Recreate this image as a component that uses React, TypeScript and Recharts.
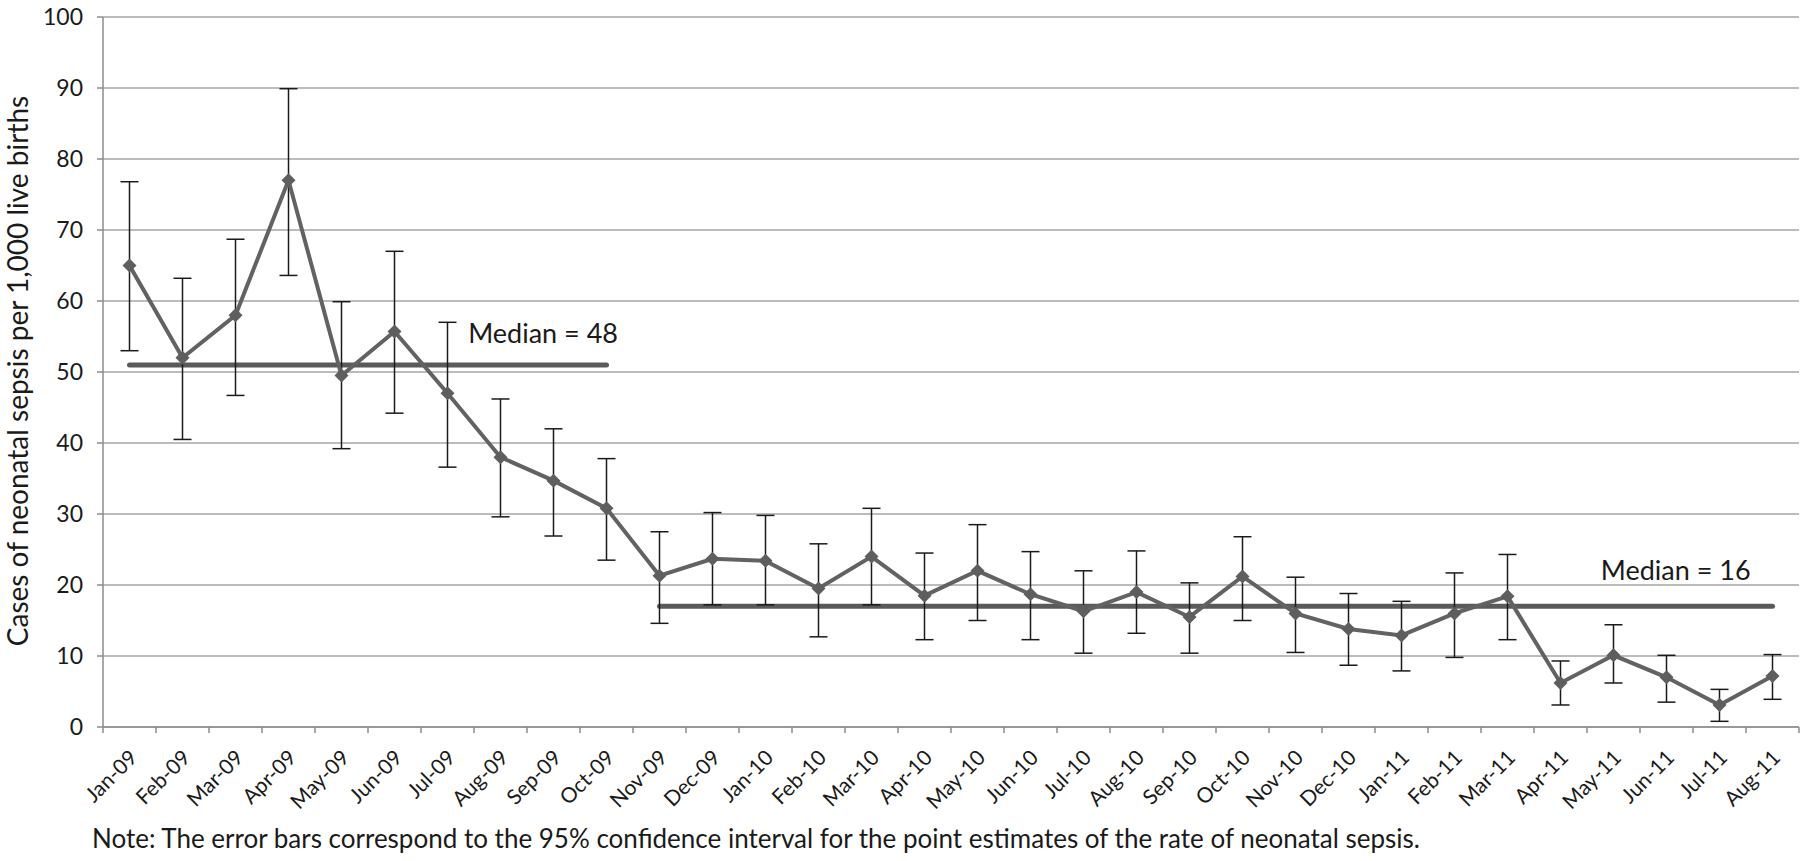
import React from 'react';
import {
  LineChart,
  Line,
  XAxis,
  YAxis,
  CartesianGrid,
  ErrorBar,
  ReferenceDot,
} from 'recharts';

const months = [
  'Jan-09', 'Feb-09', 'Mar-09', 'Apr-09', 'May-09', 'Jun-09', 'Jul-09', 'Aug-09',
  'Sep-09', 'Oct-09', 'Nov-09', 'Dec-09', 'Jan-10', 'Feb-10', 'Mar-10', 'Apr-10',
  'May-10', 'Jun-10', 'Jul-10', 'Aug-10', 'Sep-10', 'Oct-10', 'Nov-10', 'Dec-10',
  'Jan-11', 'Feb-11', 'Mar-11', 'Apr-11', 'May-11', 'Jun-11', 'Jul-11', 'Aug-11',
];

const rates = [
  65, 52, 58, 77, 49.5, 55.7, 47, 38, 34.7, 30.8, 21.3, 23.7, 23.4, 19.5, 24, 18.5,
  22, 18.7, 16.3, 19, 15.5, 21.2, 16, 13.8, 12.9, 16, 18.4, 6.2, 10.1, 7, 3.1, 7.2,
];

const lower = [
  53, 40.5, 46.7, 63.6, 39.2, 44.2, 36.6, 29.6, 26.9, 23.5, 14.6, 17.2, 17.2, 12.7, 17.2, 12.3,
  15, 12.3, 10.4, 13.2, 10.4, 15, 10.5, 8.7, 7.9, 9.8, 12.3, 3.1, 6.2, 3.5, 0.8, 3.9,
];

const upper = [
  76.8, 63.2, 68.7, 89.9, 59.9, 67, 57, 46.2, 42, 37.8, 27.5, 30.2, 29.8, 25.8, 30.8, 24.5,
  28.5, 24.7, 22, 24.8, 20.3, 26.8, 21.1, 18.8, 17.7, 21.7, 24.3, 9.3, 14.4, 10.1, 5.3, 10.2,
];

// median segments: level drawn, first and last month index, label position
const medians = [
  { label: 'Median = 48', level: 51, from: 0, to: 9, labelX: 6.39, labelY: 55.5 },
  { label: 'Median = 16', level: 17, from: 10, to: 31, labelX: 27.76, labelY: 22.1 },
];

const yTicks = [0, 10, 20, 30, 40, 50, 60, 70, 80, 90, 100];

const FONT = 'Lato, "Noto Sans", sans-serif';

const data = months.map((m, i) => {
  const row: any = {
    x: i,
    month: m,
    rate: rates[i],
    err: [rates[i] - lower[i], upper[i] - rates[i]],
  };
  medians.forEach((md, k) => {
    row['median' + k] = i >= md.from && i <= md.to ? md.level : null;
  });
  return row;
});

// category centres get labels, category edges get tick marks
const xTicks = months.flatMap((_, i) => [i - 0.5, i]).concat(months.length - 0.5);

function MonthTick(props: any) {
  const { x, y, payload } = props;
  const v = payload.value;
  if (!Number.isInteger(v)) {
    return <line x1={x} y1={y} x2={x} y2={y + 6} stroke="#8c8c8c" strokeWidth={1.5} />;
  }
  const tx = x + 9;
  const ty = y + 32;
  return (
    <text
      x={tx}
      y={ty}
      textAnchor="end"
      fontFamily={FONT}
      fontSize={21}
      fill="#1a1a1a"
      transform={`rotate(-45, ${tx}, ${ty})`}
    >
      {months[v]}
    </text>
  );
}

function Diamond(props: any) {
  const { cx, cy, index } = props;
  if (cx == null || cy == null) return null;
  const s = 7;
  return (
    <path
      key={'d' + index}
      d={`M${cx},${cy - s}L${cx + s},${cy}L${cx},${cy + s}L${cx - s},${cy}Z`}
      fill="#5e5e5e"
    />
  );
}

function YLabel() {
  return (
    <text
      x={28}
      y={371}
      textAnchor="middle"
      fontFamily={FONT}
      fontSize={28}
      fill="#1a1a1a"
      transform="rotate(-90, 28, 371)"
    >
      Cases of neonatal sepsis per 1,000 live births
    </text>
  );
}

export default function App() {
  return (
    <div style={{ position: 'absolute', left: 0, top: 0, width: 1800, height: 861, background: '#fff' }}>
      <LineChart
        width={1800}
        height={861}
        data={data}
        margin={{ top: 17, right: 1, bottom: 0, left: 0 }}
      >
        <CartesianGrid vertical={false} stroke="#a6a6a6" strokeWidth={1.5} />
        <XAxis
          dataKey="x"
          type="number"
          domain={[-0.5, months.length - 0.5]}
          ticks={xTicks}
          interval={0}
          tick={<MonthTick />}
          tickLine={false}
          tickSize={0}
          tickMargin={0}
          height={134}
          axisLine={{ stroke: '#8c8c8c', strokeWidth: 1.5 }}
        />
        <YAxis
          domain={[0, 100]}
          ticks={yTicks}
          interval={0}
          width={103}
          tickSize={6}
          tickMargin={14}
          tickLine={{ stroke: '#8c8c8c', strokeWidth: 1.5 }}
          axisLine={{ stroke: '#8c8c8c', strokeWidth: 1.5 }}
          tick={{ fontFamily: FONT, fontSize: 23, fill: '#1a1a1a' }}
          label={<YLabel />}
        />
        {medians.map((md, k) => (
          <Line
            key={md.label}
            dataKey={'median' + k}
            stroke="#5a5a5a"
            strokeWidth={5}
            strokeLinecap="round"
            dot={false}
            activeDot={false}
            connectNulls={false}
            isAnimationActive={false}
          />
        ))}
        <Line
          dataKey="rate"
          stroke="#626262"
          strokeWidth={4}
          dot={<Diamond />}
          activeDot={false}
          isAnimationActive={false}
        >
          <ErrorBar
            dataKey="err"
            direction="y"
            width={9}
            stroke="#1a1a1a"
            strokeWidth={1.5}
            isAnimationActive={false}
          />
        </Line>
        {medians.map((md) => (
          <ReferenceDot
            key={'l' + md.label}
            x={md.labelX}
            y={md.labelY}
            r={0}
            ifOverflow="visible"
            shape={(p: any) => (
              <text
                x={p.cx}
                y={p.cy}
                dy="0.36em"
                textAnchor="start"
                fontFamily={FONT}
                fontSize={27}
                fill="#1a1a1a"
              >
                {md.label}
              </text>
            )}
          />
        ))}
      </LineChart>
      <div
        style={{
          position: 'absolute',
          left: 92,
          top: 825,
          fontFamily: FONT,
          fontSize: 26,
          color: '#1a1a1a',
          whiteSpace: 'nowrap',
          lineHeight: '26px',
        }}
      >
        Note: The error bars correspond to the 95% confidence interval for the point estimates of the rate of neonatal sepsis.
      </div>
    </div>
  );
}
